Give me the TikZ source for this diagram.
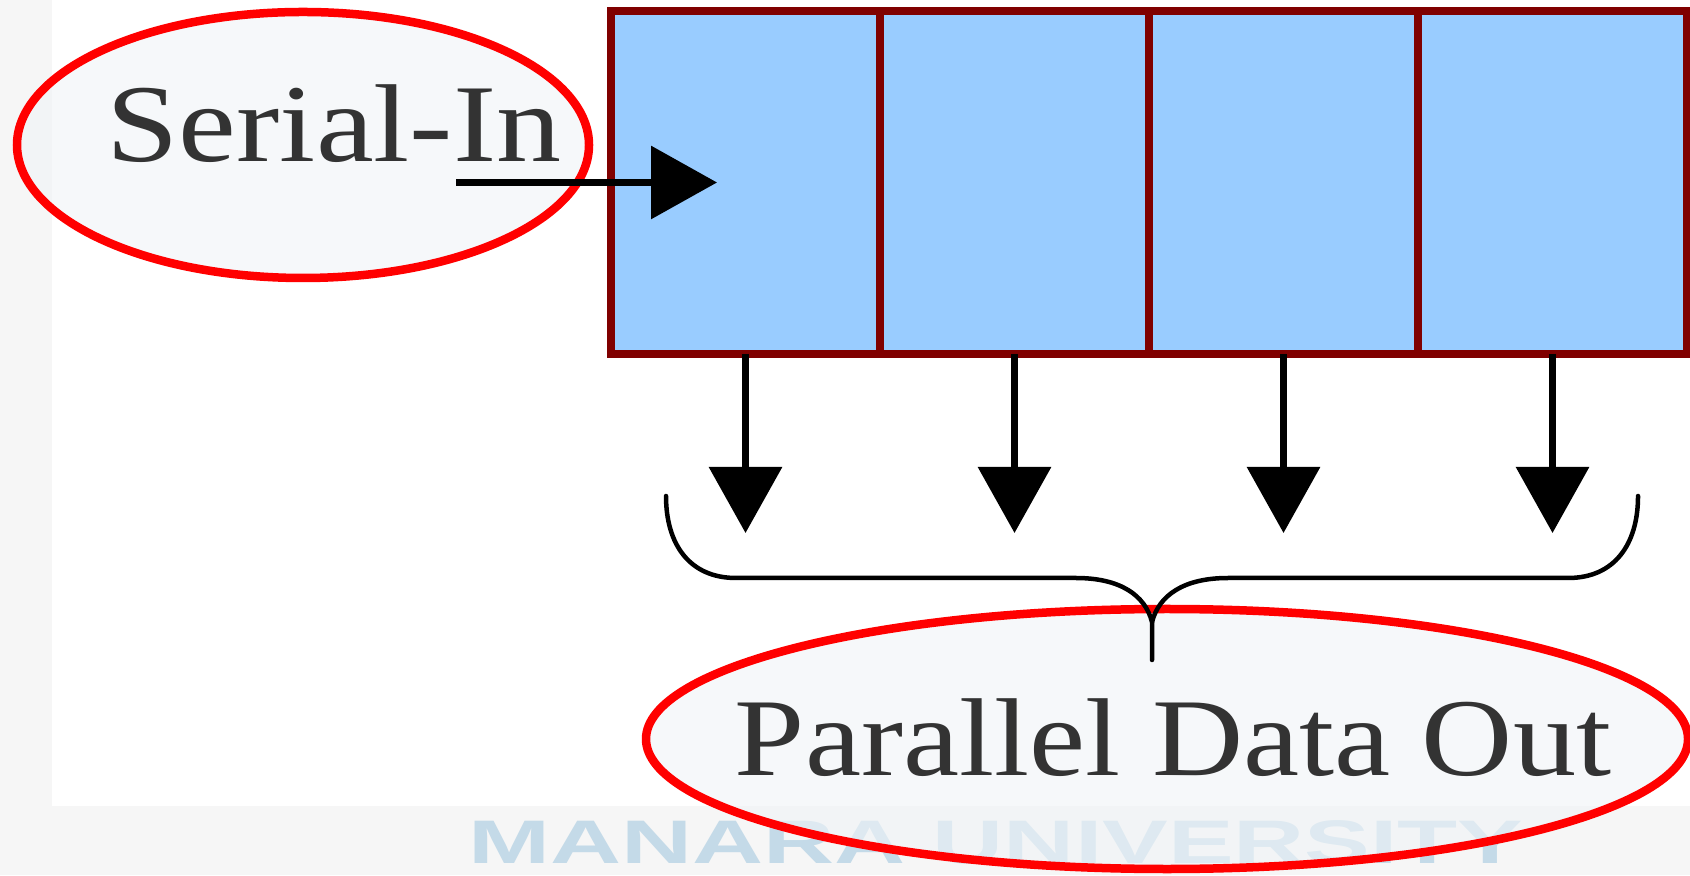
\documentclass[tikz,border=0pt]{standalone}
\usepackage{fontspec}
\setmainfont{Liberation Serif}
\newfontfamily\marksans{Liberation Sans}
\usetikzlibrary{arrows.meta, positioning, shapes.geometric}

\definecolor{cellblue}{HTML}{99CCFF}
\definecolor{cellred}{HTML}{800000}
\definecolor{pagegray}{HTML}{F6F6F6}
\definecolor{markblue}{RGB}{196,218,232}
\definecolor{ringfill}{RGB}{240,244,247}

\begin{document}
\begin{tikzpicture}[
	cell/.style={draw=cellred, fill=cellblue, line width=0.075cm, minimum width=2.69cm, minimum height=3.43cm, inner sep=0pt, outer sep=0pt},
	ring/.style={ellipse, draw=red, line width=0.085cm, fill=ringfill, fill opacity=0.6, inner sep=0pt},
	lbl/.style={font=\fontsize{31.5}{32}\selectfont, text=black!80, anchor=base, xscale=1.14, transform shape, inner sep=0pt},
	arr/.style={-{Triangle[length=0.66cm, width=0.72cm]}, line width=0.065cm},
	brace/.style={line width=0.045cm, line cap=round}
]

	\useasboundingbox (0,0) rectangle (16.9,8.75);
	\fill[pagegray] (0,0) rectangle (16.9,8.75);
	\fill[white] (0.52,0.69) rectangle (16.9,8.75);

	% watermark
	\node[font=\marksans\bfseries\fontsize{17.5}{18}\selectfont, text=markblue, anchor=base, xscale=1.6, transform shape, inner sep=0pt] (mark) at (9.96,0.12) {MANARA UNIVERSITY};

	% register
	\node[cell] (c1) at (7.455,6.925) {};
	\foreach \i/\j in {1/2,2/3,3/4}
		\node[cell, right=0pt of c\i] (c\j) {};

	\foreach \i in {1,...,4} {
		\coordinate[below=1.79cm of c\i.south] (o\i);
		\draw[arr] (c\i) -- (o\i);
	}

	% serial input
	\node[ring, minimum width=5.72cm, minimum height=2.66cm] (sring) at (3.03,7.30) {};
	\node[lbl, xscale=1.03] (stext) at (3.34,7.13) {Serial-In};
	\coordinate (sin) at (4.56,6.925);
	\draw[arr] (sin) -- ([xshift=-0.285cm]c1.center);

	% parallel output
	\node[ring, minimum width=10.42cm, minimum height=2.60cm] (pring) at (11.67,1.36) {};
	\node[lbl] (ptext) at (11.73,1.00) {Parallel Data Out};

	\coordinate (bl) at (6.66,3.79);
	\coordinate (br) at (16.38,3.79);
	\coordinate (bm) at (11.52,2.53);
	\coordinate (bs) at (11.52,2.15);
	\draw[brace] (bl) .. controls +(0,-0.49) and +(-0.46,0) .. (7.36,2.97) -- (10.76,2.97) .. controls +(0.44,0) and +(-0.07,0.27) .. (bm) -- (bs);
	\draw[brace] (bm) .. controls +(0.07,0.27) and +(-0.44,0) .. (12.28,2.97) -- (15.68,2.97) .. controls +(0.46,0) and +(0,-0.49) .. (br);

\end{tikzpicture}
\end{document}
